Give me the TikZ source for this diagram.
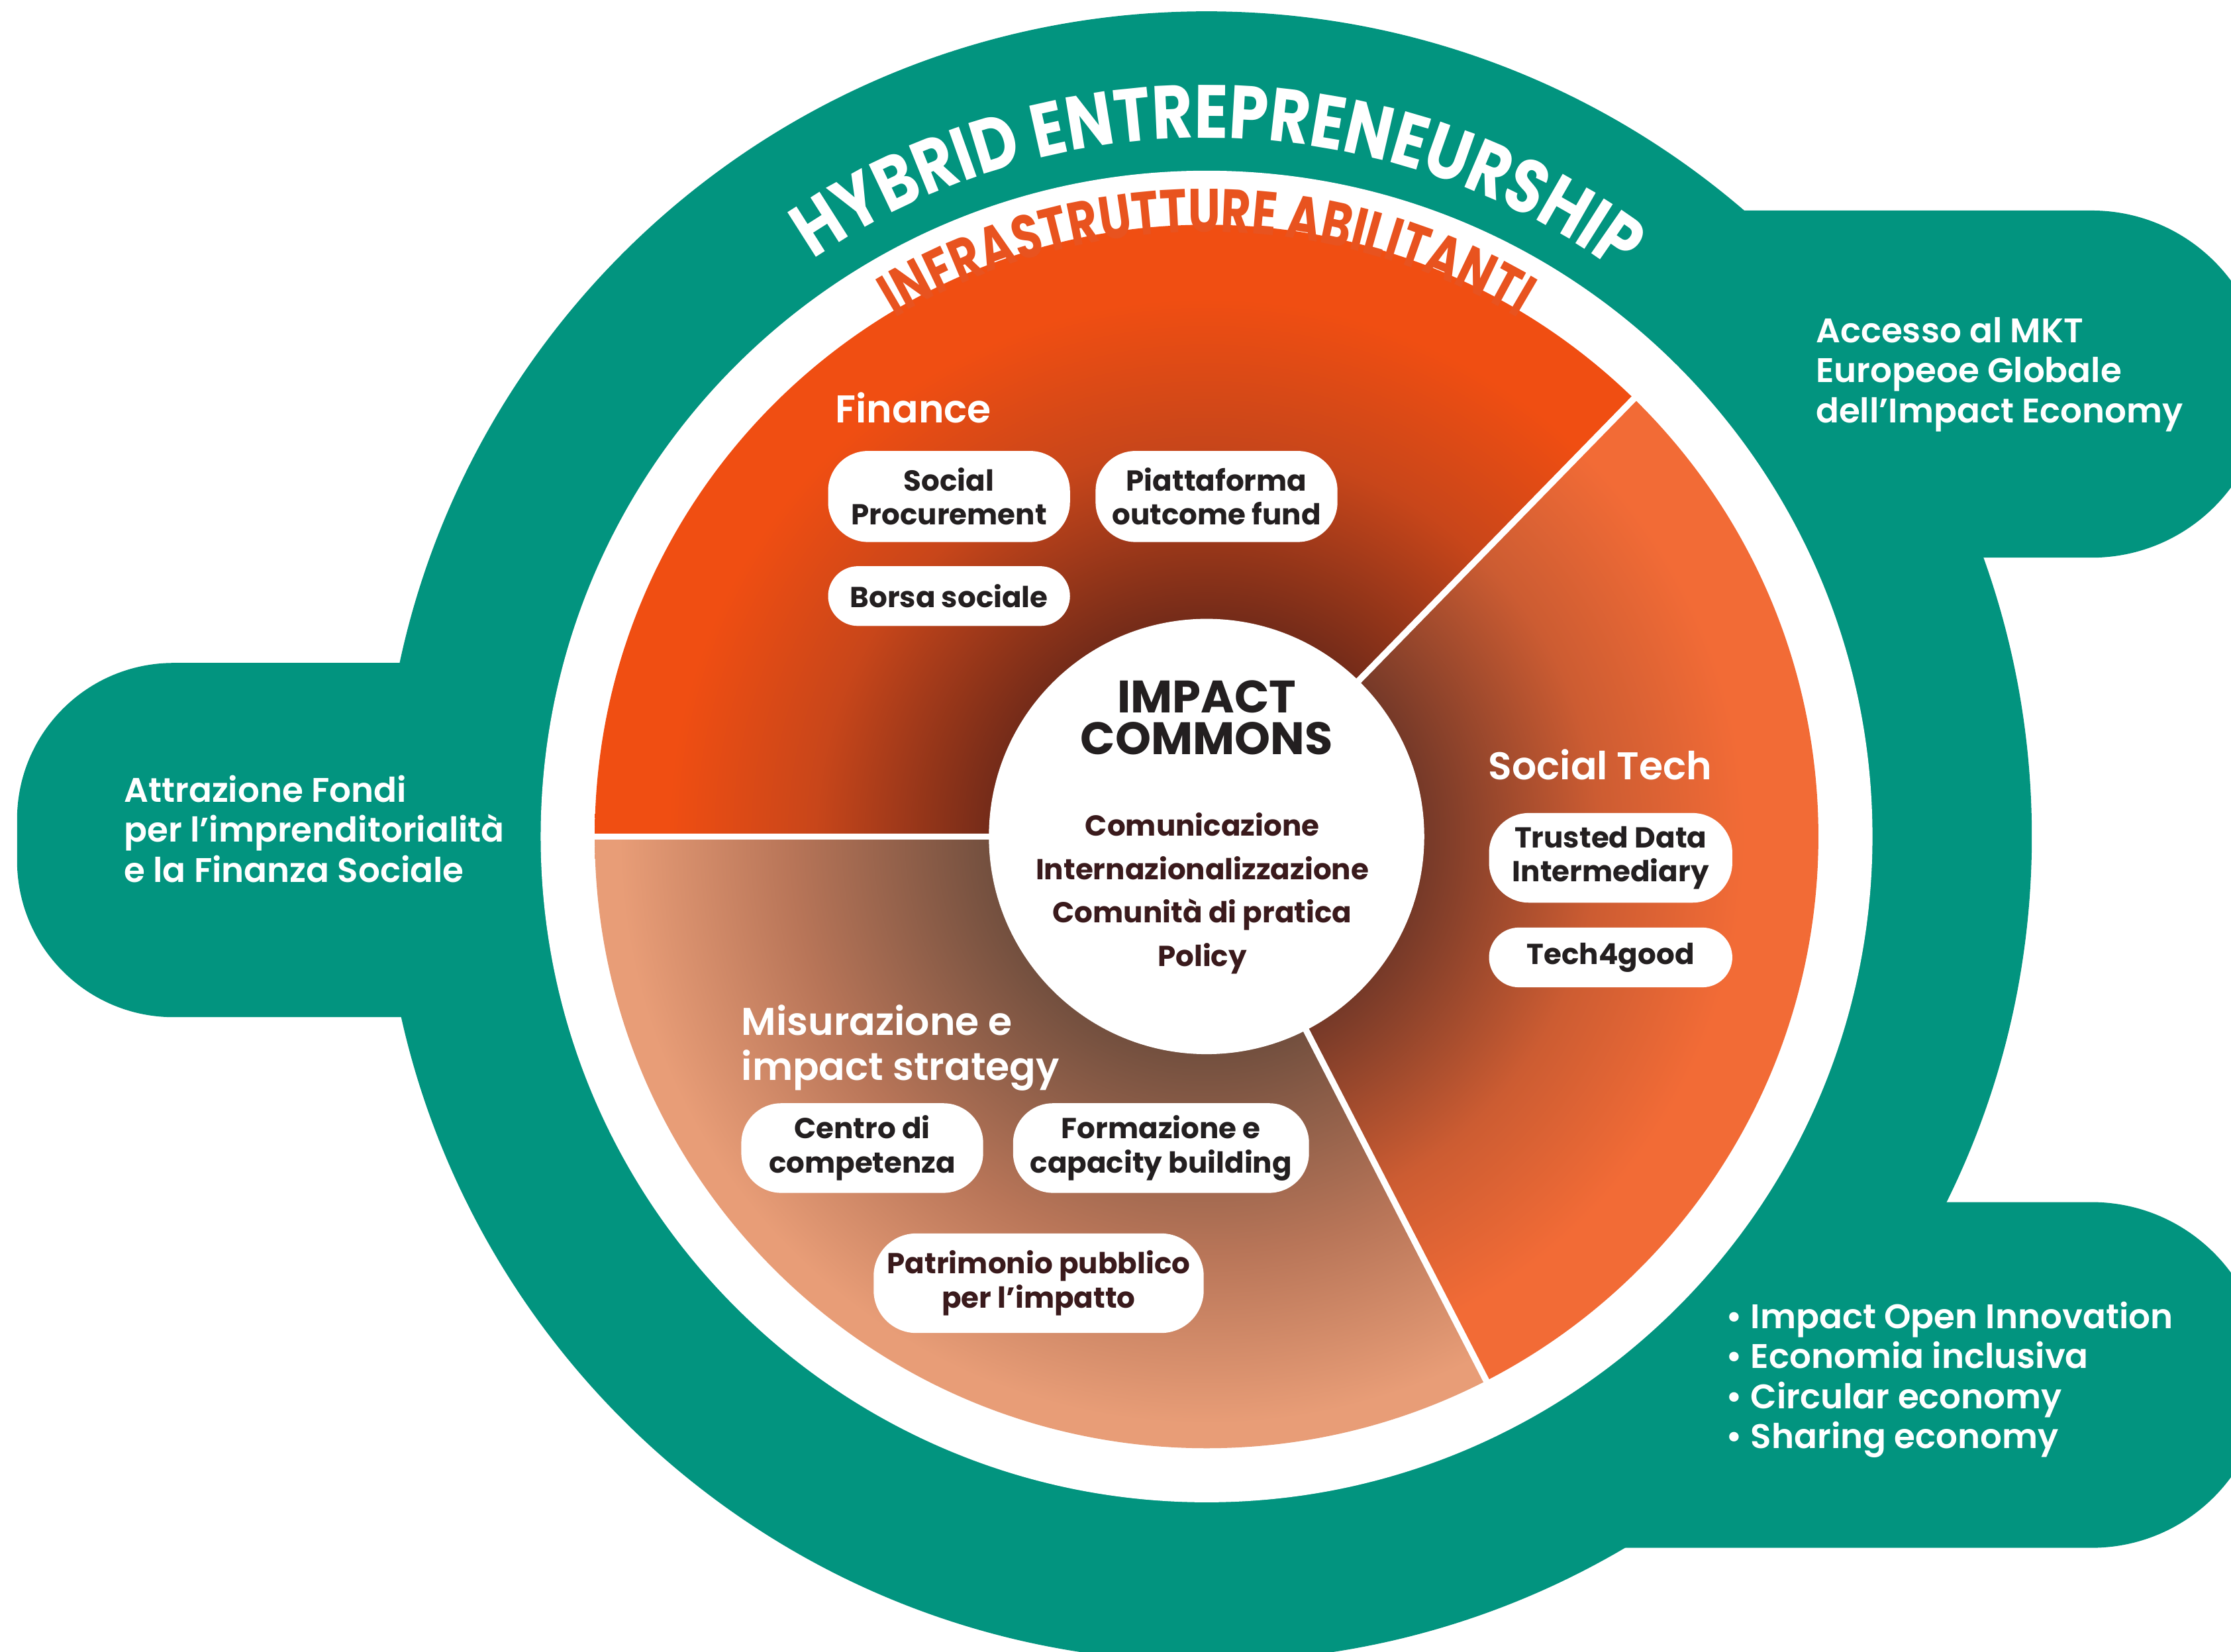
\documentclass[tikz,border=0pt]{standalone}
\usepackage{fontspec}
\newfontfamily\popsb{Poppins SemiBold}
\newfontfamily\popb{Poppins Bold}
\newfontfamily\arcA{Poppins Bold}[FakeStretch=0.83]
\newfontfamily\arcB{Poppins Bold}[FakeStretch=0.75]
\usetikzlibrary{decorations.text,calc}
\definecolor{teal1}{HTML}{02947F}
\definecolor{findark}{HTML}{6A2819}
\definecolor{finmid}{HTML}{C8461A}
\definecolor{finbright}{HTML}{F04E12}
\definecolor{stdark}{HTML}{6B3527}
\definecolor{stmid}{HTML}{CC5C32}
\definecolor{stbright}{HTML}{F26B36}
\definecolor{msdark}{HTML}{74503F}
\definecolor{msmid}{HTML}{B87558}
\definecolor{msbright}{HTML}{E89D77}
\definecolor{inkdark}{HTML}{231F20}
\definecolor{maroon1}{HTML}{3A1A1C}
\definecolor{arcorange}{HTML}{E8531F}
\pgfdeclareradialshading{finsh}{\pgfpoint{0bp}{0bp}}{color(0bp)=(findark); color(8bp)=(findark); color(16bp)=(finmid); color(22bp)=(finbright); color(50bp)=(finbright)}
\pgfdeclareradialshading{stsh}{\pgfpoint{0bp}{0bp}}{color(0bp)=(stdark); color(8bp)=(stdark); color(16bp)=(stmid); color(22bp)=(stbright); color(50bp)=(stbright)}
\pgfdeclareradialshading{mssh}{\pgfpoint{0bp}{0bp}}{color(0bp)=(msdark); color(9bp)=(msdark); color(17bp)=(msmid); color(24bp)=(msbright); color(50bp)=(msbright)}
\begin{document}
\begin{tikzpicture}[x=1pt,y=1pt,
  pill/.style={fill=white, rounded corners=#1, inner sep=0pt, align=center, text=inkdark,
    font=\popb\fontsize{20.3}{24}\selectfont},
  sectitle/.style={inner sep=0pt, text=white, font=\popsb\fontsize{27.2}{32}\selectfont},
  btext/.style={inner sep=0pt, text=white, align=left, font=\popsb\fontsize{24}{28}\selectfont},
  sep/.style={white, line width=4.5pt}]
\useasboundingbox (0,0) rectangle (1568,1161);
\coordinate (C) at (848,573);
% teal ring and bubbles
\fill[teal1] (C) circle (580);
\fill[teal1] (1100,1013) -- (1470,1013) arc[start angle=90,end angle=-90,radius=122] -- (1100,769) -- cycle;
\fill[teal1] (400,695) -- (122,695) arc[start angle=90,end angle=180,radius=110] -- (12,556) arc[start angle=180,end angle=270,radius=110] -- (400,446) -- cycle;
\fill[teal1] (1000,316) -- (1470,316) arc[start angle=90,end angle=-90,radius=121.5] -- (1000,73) -- cycle;
% white ring
\fill[white] (C) circle (468);
% sectors
\begin{scope}
  \clip (C) -- ++(45.7:432) arc[start angle=45.7,end angle=180,radius=432] -- cycle;
  \shade[shading=finsh] (C) circle (430);
\end{scope}
\begin{scope}
  \clip (C) -- ++(-62.8:432) arc[start angle=-62.8,end angle=45.7,radius=432] -- cycle;
  \shade[shading=stsh] (C) circle (430);
\end{scope}
\begin{scope}
  \clip (C) -- ++(180:432) arc[start angle=180,end angle=297.2,radius=432] -- cycle;
  \shade[shading=mssh] (C) circle (430);
\end{scope}
\coordinate (e1) at ($(C)+(180:431)$);
\coordinate (e2) at ($(C)+(45.7:431)$);
\coordinate (e3) at ($(C)+(-62.8:431)$);
\draw[sep] (C) -- (e1);
\draw[sep] (C) -- (e2);
\draw[sep] (C) -- (e3);
% core circle
\node[circle, fill=white, minimum size=306pt, inner sep=0pt] (core) at (C) {};
% arc titles
\coordinate (hs) at ($(C)+(179:491)$);
\coordinate (is) at ($(C)+(180:425)$);
\path[decorate, decoration={text along path, text align=center, text color=white,
  text={|\arcA\fontsize{53}{53}\selectfont|HYBRID ENTREPRENEURSHIP}}]
  (hs) arc[start angle=179,end angle=-1,radius=491];
\path[decorate, decoration={text along path, text align=center, text color=arcorange,
  text={|\arcB\fontsize{43}{43}\selectfont|INFRASTRUTTURE ABILITANTI}}]
  (is) arc[start angle=180,end angle=0,radius=425];
% core texts
\node[font=\popb\fontsize{32}{29}\selectfont, text=inkdark, align=center, inner sep=0pt] (ic) at (848,656.5) {IMPACT\\COMMONS};
\node[font=\popb\fontsize{20.3}{30.5}\selectfont, text=maroon1, align=center, inner sep=0pt] (list) at (845,533) {Comunicazione\\Internazionalizzazione\\Comunità di pratica\\Policy};
% sector titles
\node[sectitle, anchor=base west] (fin) at (587,864) {Finance};
\node[sectitle, anchor=base west] (st) at (1046,613) {Social Tech};
\node[sectitle, anchor=north west, align=left] (ms) at (521,455) {Misurazione e\\impact strategy};
% pills
\node[pill=28, minimum width=170pt, minimum height=64pt] (sp) at (667,812) {Social\\Procurement};
\node[pill=28, minimum width=170pt, minimum height=64pt] (pof) at (855,812) {Piattaforma\\outcome fund};
\node[pill=21, minimum width=170pt, minimum height=42pt] (bs) at (667,742) {Borsa sociale};
\node[pill=28, minimum width=171pt, minimum height=63pt] (tdi) at (1132,558) {Trusted Data\\Intermediary};
\node[pill=21, minimum width=171pt, minimum height=42pt] (t4g) at (1132,488) {Tech4good};
\node[pill=28, minimum width=170pt, minimum height=63pt] (cdc) at (606,354) {Centro di\\competenza};
\node[pill=28, minimum width=208pt, minimum height=63pt] (fcb) at (816,354) {Formazione e\\capacity building};
\node[pill=30, minimum width=232pt, minimum height=70pt, text=maroon1] (ppi) at (730,259) {Patrimonio pubblico\\per l’impatto};
% bubble texts
\node[btext, anchor=north west] (acc) at (1276,938) {Accesso al MKT\\Europeoe Globale\\dell’Impact Economy};
\node[btext, anchor=north west] (att) at (87,616) {Attrazione Fondi\\per l’imprenditorialità\\e la Finanza Sociale};
\node[btext, anchor=north west] (bul) at (1213,246) {• Impact Open Innovation\\• Economia inclusiva\\• Circular economy\\• Sharing economy};
\end{tikzpicture}
\end{document}
